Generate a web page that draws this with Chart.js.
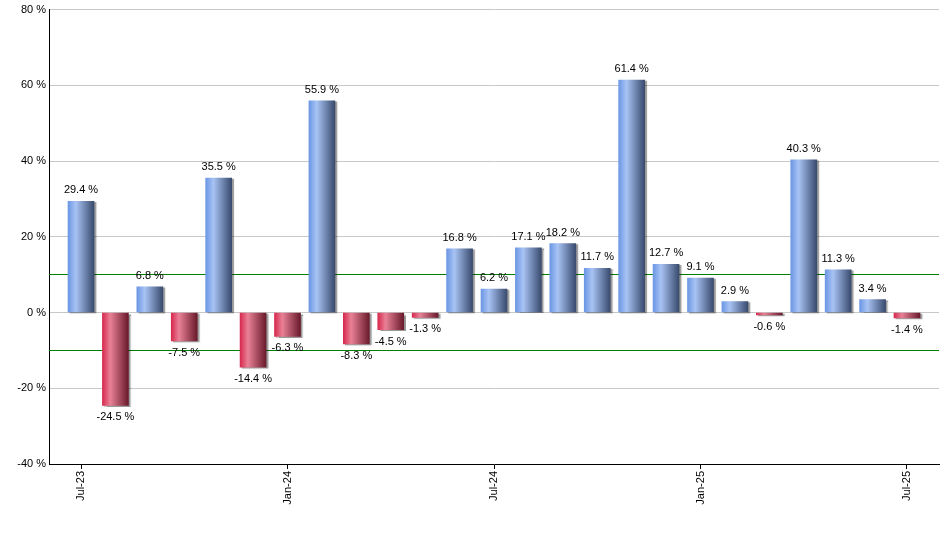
<!DOCTYPE html>
<html>
<head>
<meta charset="utf-8">
<script src="https://cdn.jsdelivr.net/npm/chart.js@4.4.1/dist/chart.umd.min.js"></script>
<style>
  html, body { margin: 0; padding: 0; background: #fff; }
</style>
</head>
<body>
<canvas id="returns-chart" width="940" height="550"></canvas>
<script>
// Месяцы (категории) и доходность по месяцам, %
const months = [
  'Jul-23', 'Aug-23', 'Sep-23', 'Oct-23', 'Nov-23', 'Dec-23',
  'Jan-24', 'Feb-24', 'Mar-24', 'Apr-24', 'May-24', 'Jun-24',
  'Jul-24', 'Aug-24', 'Sep-24', 'Oct-24', 'Nov-24', 'Dec-24',
  'Jan-25', 'Feb-25', 'Mar-25', 'Apr-25', 'May-25', 'Jun-25',
  'Jul-25'
];
const returns = [
  29.4, -24.5, 6.8, -7.5, 35.5, -14.4,
  -6.3, 55.9, -8.3, -4.5, -1.3, 16.8,
  6.2, 17.1, 18.2, 11.7, 61.4, 12.7,
  9.1, 2.9, -0.6, 40.3, 11.3, 3.4,
  -1.4
];
// Подписи оси X и шкала Y
const xTickLabels = ['Jul-23', 'Jan-24', 'Jul-24', 'Jan-25', 'Jul-25'];
const yTicks = [-40, -20, 0, 20, 40, 60, 80];
// Зелёные линии-границы
const bandLevels = [-10, 10];

const FONT = { family: '"Liberation Sans", Arial, sans-serif', size: 11 };

/**
 * Градиент для столбца: синий для роста, красный для падения
 */
function barGradient(context) {
  const chart = context.chart;
  const xScale = chart.scales.x;
  const value = returns[context.dataIndex];
  const flat = value >= 0 ? '#7fa5ea' : '#d8405f';
  if (!xScale) return flat;
  const cx = xScale.getPixelForValue(context.dataIndex);
  if (!Number.isFinite(cx)) return flat;
  const g = chart.ctx.createLinearGradient(cx - 13, 0, cx + 13, 0);
  if (value >= 0) {
    g.addColorStop(0, '#6c97e4');
    g.addColorStop(0.3, '#a8c3f4');
    g.addColorStop(1, '#394b6e');
  } else {
    g.addColorStop(0, '#d72a4f');
    g.addColorStop(0.3, '#e98196');
    g.addColorStop(1, '#6a1a2c');
  }
  return g;
}

// Линии +10 / -10 под столбцами
const bandLines = {
  id: 'bandLines',
  beforeDatasetsDraw(chart) {
    const ctx = chart.ctx;
    const y = chart.scales.y;
    const area = chart.chartArea;
    bandLevels.forEach(level => {
      const py = Math.floor(y.getPixelForValue(level));
      ctx.save();
      ctx.fillStyle = 'rgb(0, 128, 0)';
      ctx.fillRect(area.left, py, area.right - area.left, 1);
      ctx.restore();
    });
  }
};

// Тень столбцов
const barShadow = {
  id: 'barShadow',
  beforeDatasetsDraw(chart) {
    const ctx = chart.ctx;
    ctx.save();
    ctx.shadowColor = 'rgba(0, 0, 0, 0.4)';
    ctx.shadowOffsetX = 2;
    ctx.shadowOffsetY = 1;
    ctx.shadowBlur = 1;
  },
  afterDatasetsDraw(chart) {
    chart.ctx.restore();
  }
};

// Подписи значений над/под столбцами
const valueLabels = {
  id: 'valueLabels',
  afterDatasetsDraw(chart) {
    const ctx = chart.ctx;
    const meta = chart.getDatasetMeta(0);
    ctx.save();
    ctx.font = FONT.size + 'px ' + FONT.family;
    ctx.fillStyle = '#000';
    ctx.textAlign = 'center';
    ctx.textBaseline = 'middle';
    meta.data.forEach((bar, i) => {
      const v = returns[i];
      const ty = v >= 0 ? bar.y - 11 : bar.y + 12;
      ctx.fillText(v.toFixed(1) + ' %', bar.x, ty);
    });
    ctx.restore();
  }
};

const ctx = document.getElementById('returns-chart');
new Chart(ctx, {
  type: 'bar',
  data: {
    datasets: [{
      data: returns.map((v, i) => ({ x: i, y: v })),
      backgroundColor: barGradient,
      borderWidth: 0,
      barThickness: 26
    }]
  },
  options: {
    responsive: false,
    animation: false,
    layout: { padding: { top: 9, right: 1, bottom: 0, left: 0 } },
    plugins: {
      legend: { display: false },
      tooltip: { enabled: false }
    },
    scales: {
      x: {
        type: 'linear',
        offset: false,
        min: -0.93,
        max: 24.93,
        afterBuildTicks: scale => {
          scale.ticks = xTickLabels.map(m => ({ value: months.indexOf(m) }));
        },
        afterFit: scale => { scale.height = 86; },
        ticks: {
          callback: v => months[v],
          autoSkip: false,
          minRotation: 90,
          maxRotation: 90,
          padding: 2,
          color: '#000',
          font: FONT
        },
        grid: { offset: false, drawOnChartArea: false, tickLength: 5, color: '#000' },
        border: { color: '#000' }
      },
      y: {
        min: yTicks[0],
        max: yTicks[yTicks.length - 1],
        afterBuildTicks: scale => {
          scale.ticks = yTicks.map(v => ({ value: v }));
        },
        afterFit: scale => { scale.width = 49; },
        ticks: {
          callback: v => v + ' %',
          padding: 3,
          color: '#000',
          font: FONT
        },
        grid: { color: '#c8c8c8', drawTicks: false },
        border: { color: '#000' }
      }
    }
  },
  plugins: [bandLines, barShadow, valueLabels]
});
</script>
</body>
</html>
